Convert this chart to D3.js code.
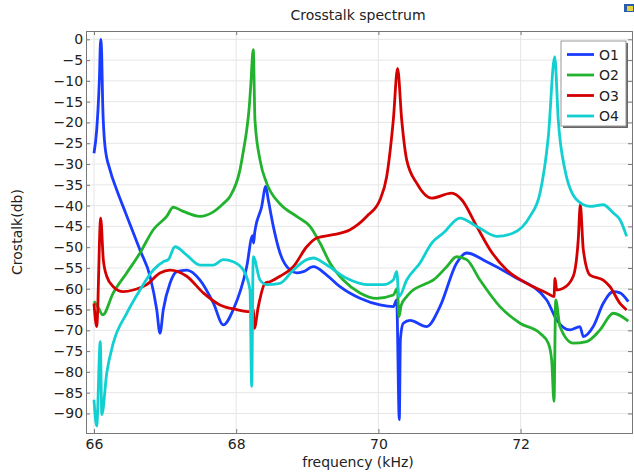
<!DOCTYPE html>
<html>
<head>
<meta charset="utf-8">
<script src="https://cdn.jsdelivr.net/npm/d3@7"></script>
<style>
	body { margin: 0; background: #fff; }
	svg { display: block; font-family: "DejaVu Sans", sans-serif; }
</style>
</head>
<body>
<svg id="vis" width="634" height="472"></svg>
<script>
// frequency (kHz), crosstalk (dB)
var O1 = [[66.0,-27.4],[66.038,-21.8],[66.075,-10],[66.094,0],[66.108,-3.4],[66.122,-15.4],[66.155,-25.8],
	[66.225,-31.4],[66.319,-36.2],[66.45,-42],[66.647,-50.7],[66.788,-57],[66.882,-65],[66.928,-70.7],
	[66.975,-65],[67.069,-58.7],[67.163,-55.9],[67.304,-55.5],[67.491,-57.9],[67.678,-63.4],[67.819,-68.7],
	[67.959,-65],[68.148,-54.7],[68.23,-47.2],[68.245,-49],[68.26,-46.5],[68.359,-40.2],[68.415,-35.4],
	[68.451,-38.6],[68.522,-45],[68.616,-51.4],[68.757,-55.5],[68.851,-56.2],[68.944,-55.9],[69.084,-54.7],
	[69.273,-56.7],[69.46,-59.5],[69.741,-62.3],[70.023,-63.9],[70.21,-64.3],[70.257,-62.7],[70.294,-91.5],
	[70.31,-72],[70.35,-68.3],[70.444,-67.6],[70.679,-69.1],[70.866,-64.3],[71.101,-53.8],[71.242,-51.4],
	[71.523,-53.5],[71.897,-57],[72.367,-62.7],[72.508,-67.5],[72.694,-69.9],[72.835,-69.1],[72.882,-71.5],
	[73.022,-69.1],[73.163,-63.5],[73.304,-60.7],[73.398,-61],[73.515,-63.1]];
var O2 = [[66.0,-63],[66.06,-64.5],[66.122,-66.3],[66.271,-61],[66.46,-56.2],[66.647,-51.4],[66.834,-45.8],
	[67.022,-42.6],[67.115,-40.4],[67.256,-41.4],[67.491,-42.6],[67.678,-41.5],[67.82,-39.5],[67.913,-37.8],
	[68.053,-31.4],[68.1,-27],[68.148,-21.8],[68.18,-17],[68.204,-11.4],[68.24,-2.5],[68.264,-19.4],
	[68.335,-29],[68.429,-34.6],[68.616,-39.6],[68.851,-42.6],[69.038,-45],[69.179,-49],[69.319,-53.8],
	[69.506,-57.9],[69.741,-61],[69.976,-62.3],[70.21,-61.5],[70.266,-59.9],[70.29,-66.7],[70.32,-64],
	[70.398,-61.9],[70.444,-61],[70.679,-58.7],[70.772,-57.9],[70.961,-54.7],[71.101,-52.3],[71.242,-53],
	[71.429,-57.9],[71.71,-64.3],[71.992,-68.3],[72.273,-70.7],[72.39,-73.1],[72.437,-77.1],[72.47,-87.1],
	[72.494,-62.7],[72.554,-69.1],[72.741,-73.1],[72.93,-72.7],[73.117,-69.9],[73.304,-65.9],[73.515,-67.8]];
var O3 = [[66.0,-63.5],[66.038,-69.1],[66.094,-43],[66.131,-53],[66.179,-57],[66.271,-59.5],[66.412,-60.7],
	[66.553,-60.3],[66.741,-59],[66.928,-56.2],[67.069,-55.5],[67.304,-57],[67.537,-61],[67.772,-63.9],
	[68.007,-65],[68.194,-65.5],[68.24,-65],[68.255,-69.5],[68.311,-64.3],[68.405,-58.7],[68.475,-58.3],
	[68.616,-57],[68.803,-54.7],[68.992,-49.9],[69.132,-47.8],[69.366,-47],[69.601,-45.8],[69.835,-42.6],
	[70.023,-38.6],[70.117,-33],[70.21,-19.4],[70.27,-7],[70.328,-19.4],[70.398,-29],[70.539,-34.6],
	[70.75,-38.2],[71.031,-37],[71.172,-38.6],[71.383,-45],[71.57,-50.6],[71.805,-55.5],[72.086,-58.7],
	[72.367,-61],[72.47,-61.9],[72.484,-57.5],[72.508,-60.3],[72.6,-59.9],[72.741,-57],[72.811,-48.2],
	[72.84,-39.8],[72.882,-50.6],[72.976,-56.7],[73.163,-57.9],[73.257,-59.5],[73.398,-63.5],[73.492,-65.1]];
var O4 = [[66.0,-86.7],[66.038,-93],[66.088,-72.7],[66.11,-90.3],[66.179,-80.3],[66.271,-73.1],[66.46,-65.9],
	[66.647,-60.3],[66.834,-55.5],[66.975,-53.5],[67.045,-53],[67.139,-49.9],[67.304,-51.9],[67.491,-54.3],
	[67.678,-54.3],[67.819,-53],[67.959,-53.5],[68.1,-55.5],[68.194,-60.3],[68.218,-83.5],[68.24,-52.3],
	[68.335,-57.9],[68.429,-59],[68.616,-58.7],[68.803,-55.5],[68.992,-53],[69.084,-52.6],[69.273,-54.3],
	[69.554,-57.5],[69.835,-59],[70.069,-59],[70.21,-57.9],[70.257,-55.9],[70.29,-61.9],[70.398,-57.9],
	[70.585,-53.8],[70.75,-49],[70.913,-46.6],[71.148,-43],[71.383,-45],[71.664,-47.4],[71.897,-46.6],
	[72.132,-42.6],[72.273,-37],[72.39,-23.4],[72.48,-4.2],[72.53,-19.4],[72.624,-31.4],[72.789,-38.6],
	[72.976,-40.2],[73.163,-39.8],[73.304,-41.8],[73.398,-43.4],[73.492,-47.4]];

var seriesNames = ["O1", "O2", "O3", "O4"];
var seriesColors = ["#1a3cff", "#22b22e", "#d40000", "#12cfd2"];
var xTicks = [66, 68, 70, 72];
var yTicks = d3.range(0, -91, -5);

var margin = {top: 31, right: 2, bottom: 39, left: 86};
var W = 634, H = 472;
var w = W - margin.left - margin.right, h = H - margin.top - margin.bottom;

var svg = d3.select("#vis");
var g = svg.append("g").attr("transform", `translate(${margin.left},${margin.top})`);

var x = d3.scaleLinear().domain([65.8875, 73.567]).range([0, w]);
var y = d3.scaleLinear().domain([-94.7, 2.0]).range([h, 0]);

// grid
g.append("g").selectAll("line").data(yTicks).enter().append("line")
	.attr("x1", 0).attr("x2", w).attr("y1", d => y(d)).attr("y2", d => y(d))
	.attr("stroke", "#e6e6e6").attr("stroke-width", 1);
g.append("g").selectAll("line").data(xTicks).enter().append("line")
	.attr("y1", 0).attr("y2", h).attr("x1", d => x(d)).attr("x2", d => x(d))
	.attr("stroke", "#e6e6e6").attr("stroke-width", 1);

// axes (ticks pointing inward)
var axL = g.append("g").call(d3.axisLeft(y).tickValues(yTicks).tickSize(-4).tickPadding(5));
var axR = g.append("g").attr("transform", `translate(${w},0)`)
	.call(d3.axisRight(y).tickValues(yTicks).tickSize(-4).tickFormat(""));
var axB = g.append("g").attr("transform", `translate(0,${h})`)
	.call(d3.axisBottom(x).tickValues(xTicks).tickSize(-4).tickPadding(6));
var axT = g.append("g").call(d3.axisTop(x).tickValues(xTicks).tickSize(-4).tickFormat(""));
[axL, axR, axB, axT].forEach(a => {
	a.select(".domain").attr("stroke", "#777");
	a.selectAll(".tick line").attr("stroke", "#777");
	a.selectAll("text").attr("font-size", 14).attr("fill", "#222").attr("font-family", "DejaVu Sans");
});
axL.selectAll("text").attr("dx", "0.15em");

// curves
var line = d3.line().x(d => x(d[0])).y(d => y(d[1])).curve(d3.curveMonotoneX);
var clip = g.append("clipPath").attr("id", "clip").append("rect").attr("width", w).attr("height", h);
[O1, O2, O3, O4].forEach((s, i) => {
	g.append("path").datum(s)
		.attr("d", line)
		.attr("fill", "none")
		.attr("stroke", seriesColors[i])
		.attr("stroke-width", 2.8)
		.attr("stroke-linejoin", "round")
		.attr("clip-path", "url(#clip)");
});

// legend
var lg = svg.append("g").attr("transform", "translate(561,41)");
lg.append("rect").attr("x", 2).attr("y", 2).attr("width", 65).attr("height", 85).attr("fill", "#666");
lg.append("rect").attr("width", 65).attr("height", 85).attr("fill", "#fff").attr("stroke", "#999");
seriesNames.forEach((n, i) => {
	var yy = 13.5 + i * 20.5;
	lg.append("line").attr("x1", 6).attr("x2", 33).attr("y1", yy).attr("y2", yy)
		.attr("stroke", seriesColors[i]).attr("stroke-width", 2.8);
	lg.append("text").attr("x", 38).attr("y", yy).attr("dy", "0.36em")
		.attr("font-size", 14).attr("fill", "#222").text(n);
});

// titles
svg.append("text").attr("x", 358).attr("y", 20).attr("text-anchor", "middle")
	.attr("font-size", 14).attr("fill", "#222").text("Crosstalk spectrum");
svg.append("text").attr("x", 358).attr("y", 467).attr("text-anchor", "middle")
	.attr("font-size", 14).attr("fill", "#222").text("frequency (kHz)");
svg.append("text").attr("transform", "translate(22,232) rotate(-90)").attr("text-anchor", "middle")
	.attr("font-size", 14).attr("fill", "#222").text("Crostalk(db)");

// small window icon, top right
svg.append("rect").attr("x", 624).attr("y", 4).attr("width", 10).attr("height", 8).attr("fill", "#2a5db0");
svg.append("rect").attr("x", 627).attr("y", 6).attr("width", 6).attr("height", 5).attr("fill", "#e8d23a");
</script>
</body>
</html>
